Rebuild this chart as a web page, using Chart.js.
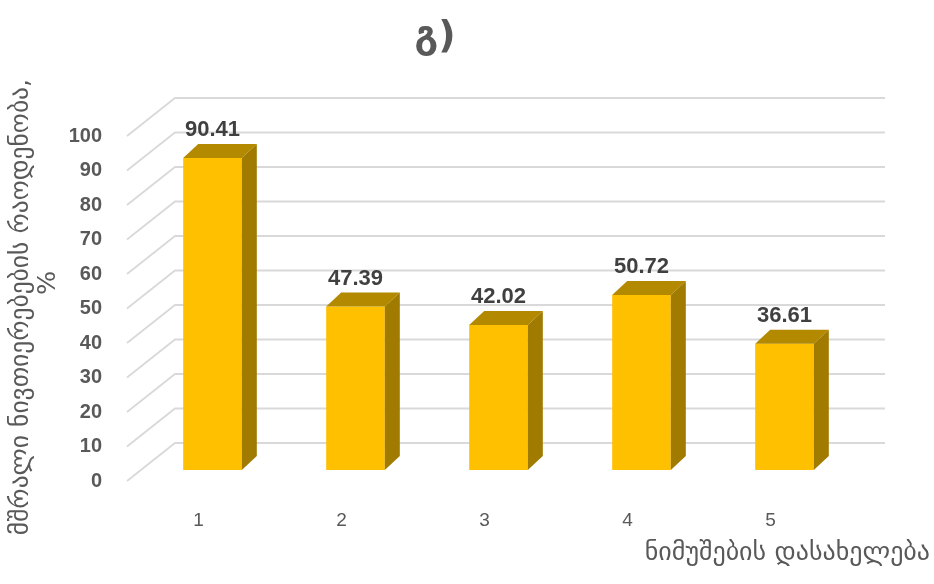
<!DOCTYPE html>
<html>
<head>
<meta charset="utf-8">
<script src="https://cdn.jsdelivr.net/npm/chart.js@4/dist/chart.umd.min.js"></script>
<style>
  html, body { margin: 0; padding: 0; background: #fff; }
  #wrap { width: 934px; height: 584px; }
</style>
</head>
<body>
<div id="wrap"><canvas id="chart" width="934" height="584"></canvas></div>
<script>
const samples = ["1", "2", "3", "4", "5"];
const dryMatter = [90.41, 47.39, 42.02, 50.72, 36.61];
const yTitle = ["მშრალი ნივთიერებების რაოდენობა,", "%"];
const xTitle = "ნიმუშების დასახელება";
const chartTitle = "გ)";

const GEO_FONT = "'DejaVu Sans', sans-serif";
const NUM_FONT = "'Liberation Sans', Arial, sans-serif";
const TEXT_COLOR = "#595959";

// bar depth and wall offsets for the fake 3D look
const depth = { dx: 15, dy: -14 };
const wall = { frontDx: -14, frontDy: 11, backDx: 34, backDy: -27 };

const wallGrid = {
  id: "wallGrid",
  beforeDatasetsDraw(chart) {
    const { ctx, chartArea, scales } = chart;
    const y = scales.y;
    ctx.save();
    ctx.strokeStyle = "#d9d9d9";
    ctx.lineWidth = 1.8;
    y.ticks.forEach((t) => {
      const py = y.getPixelForValue(t.value);
      ctx.beginPath();
      ctx.moveTo(chartArea.left + wall.frontDx, py + wall.frontDy);
      ctx.lineTo(chartArea.left + wall.backDx, py + wall.backDy);
      ctx.lineTo(chartArea.right + 29, py + wall.backDy);
      ctx.stroke();
    });
    ctx.restore();
  },
};

const barFaces = {
  id: "barFaces",
  afterDatasetsDraw(chart) {
    const { ctx } = chart;
    const meta = chart.getDatasetMeta(0);
    const data = chart.data.datasets[0].data;
    ctx.save();
    meta.data.forEach((bar, i) => {
      const half = bar.width / 2;
      const l = bar.x - half;
      const r = bar.x + half;
      const top = bar.y;
      const bottom = bar.base;
      // top face
      ctx.fillStyle = "#b38900";
      ctx.beginPath();
      ctx.moveTo(l, top);
      ctx.lineTo(l + depth.dx, top + depth.dy);
      ctx.lineTo(r + depth.dx, top + depth.dy);
      ctx.lineTo(r, top);
      ctx.closePath();
      ctx.fill();
      // right side face
      ctx.fillStyle = "#a07b00";
      ctx.beginPath();
      ctx.moveTo(r, top);
      ctx.lineTo(r + depth.dx, top + depth.dy);
      ctx.lineTo(r + depth.dx, bottom + depth.dy);
      ctx.lineTo(r, bottom);
      ctx.closePath();
      ctx.fill();
      // value label
      ctx.fillStyle = "#404040";
      ctx.font = "bold 22px " + NUM_FONT;
      ctx.textAlign = "center";
      ctx.textBaseline = "bottom";
      ctx.fillText(data[i].toFixed(2), bar.x, top + depth.dy - 3);
    });
    ctx.restore();
  },
};

const titles = {
  id: "titles",
  afterDraw(chart) {
    const { ctx } = chart;
    ctx.save();
    ctx.fillStyle = TEXT_COLOR;
    ctx.textBaseline = "middle";
    ctx.font = "bold 38px " + GEO_FONT;
    ctx.textAlign = "center";
    ctx.fillText(chartTitle, 435, 37);
    ctx.font = "26px " + GEO_FONT;
    ctx.textAlign = "right";
    ctx.fillText(xTitle, 930, 553);
    // rotated axis title, two lines
    ctx.translate(0, 307);
    ctx.rotate(-Math.PI / 2);
    ctx.font = "25.5px " + GEO_FONT;
    ctx.textAlign = "center";
    ctx.fillText(yTitle[0], 0, 21);
    ctx.fillText(yTitle[1], 24, 48);
    ctx.restore();
  },
};

new Chart(document.getElementById("chart"), {
  type: "bar",
  data: {
    labels: samples,
    datasets: [
      {
        data: dryMatter,
        backgroundColor: "#ffc000",
        borderWidth: 0,
        barPercentage: 0.41,
        categoryPercentage: 1,
      },
    ],
  },
  options: {
    responsive: false,
    animation: false,
    layout: { padding: { top: 125, right: 78, left: 0, bottom: 0 } },
    plugins: {
      legend: { display: false },
      tooltip: { enabled: false },
    },
    scales: {
      x: {
        grid: { display: false },
        border: { display: false },
        ticks: {
          color: TEXT_COLOR,
          font: { family: NUM_FONT, size: 19 },
          padding: 31,
          labelOffset: wall.frontDx,
        },
        afterFit(scale) {
          scale.height = 114;
        },
      },
      y: {
        min: 0,
        max: 100,
        grid: { display: false },
        border: { display: false },
        ticks: {
          stepSize: 10,
          color: TEXT_COLOR,
          font: { family: NUM_FONT, size: 20, weight: "bold" },
          padding: 31,
          labelOffset: wall.frontDy,
        },
        afterFit(scale) {
          scale.width = 141;
        },
      },
    },
  },
  plugins: [wallGrid, barFaces, titles],
});
</script>
</body>
</html>
